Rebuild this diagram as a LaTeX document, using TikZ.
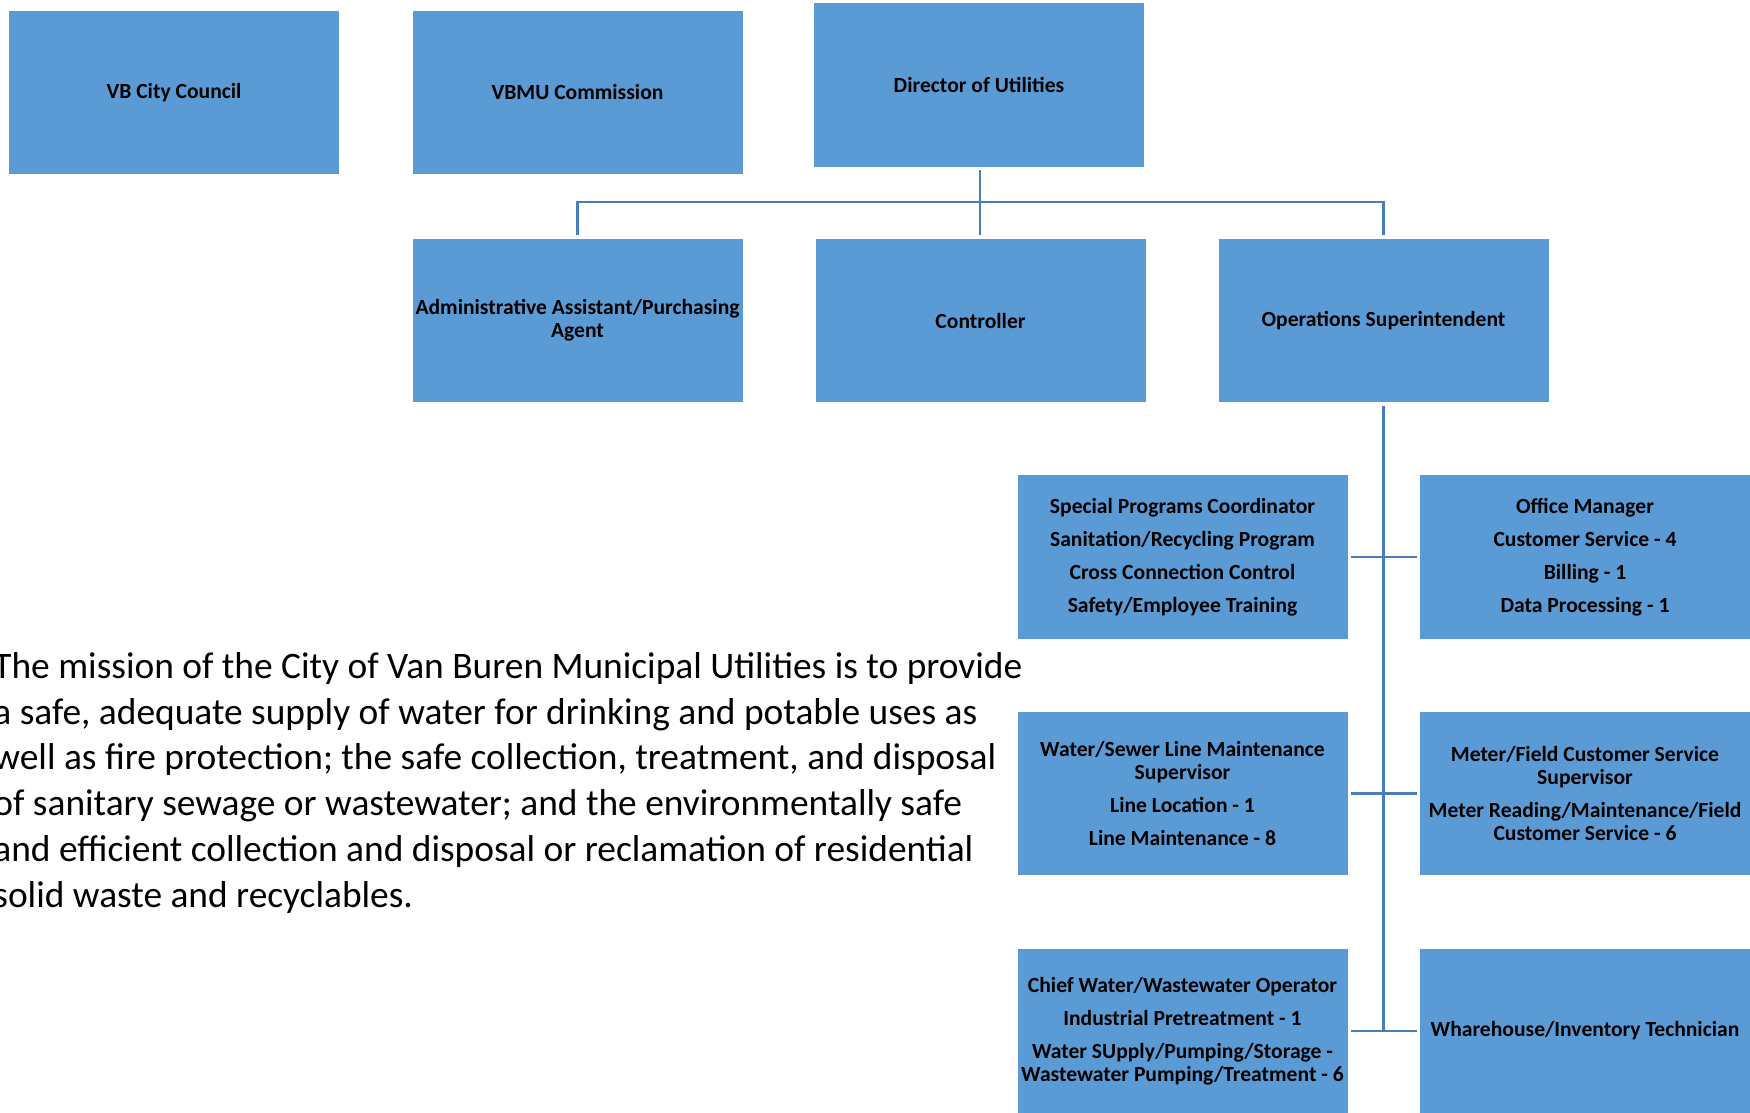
\documentclass[tikz,border=0pt]{standalone}
\usepackage{fontspec}
\setmainfont{Carlito}
\definecolor{boxblue}{HTML}{5B9BD5}
\definecolor{lineblue}{HTML}{4A7EBB}
\begin{document}
\begin{tikzpicture}[x=0.5pt,y=-0.5pt,
  orgbox/.style={fill=boxblue, minimum width=165pt, minimum height=81.75pt, inner sep=0pt,
    align=center, anchor=center, font=\bfseries\fontsize{10.8}{11.7}\selectfont},
  link/.style={draw=lineblue, line width=1.4pt},
  mission/.style={align=left, anchor=base west, inner sep=0pt, font=\fontsize{18.7}{22.85}\selectfont}]
\useasboundingbox (0,0) rectangle (1750,1113);
\begin{scope}
\clip (0,0) rectangle (1750,1113);
\node[orgbox] (council) at (174,92.5) {VB City Council};
\node[orgbox] (vbmu) at (577.5,92.5) {VBMU Commission};
\node[orgbox] (director) at (979,85) {Director of Utilities};
\node[orgbox] (admin) at (577.5,320.5) {Administrative Assistant/Purchasing\\Agent};
\node[orgbox] (controller) at (980.5,320.5) {Controller};
\node[orgbox] (ops) at (1383.5,320.5) {Operations Superintendent};
\node[orgbox] (special) at (1182.5,557) {Special Programs Coordinator\\[4.8pt]Sanitation/Recycling Program\\[4.8pt]Cross Connection Control\\[4.8pt]Safety/Employee Training};
\node[orgbox] (office) at (1585,557) {Office Manager\\[4.8pt]Customer Service - 4\\[4.8pt]Billing - 1\\[4.8pt]Data Processing - 1};
\node[orgbox] (water) at (1182.5,793.5) {Water/Sewer Line Maintenance\\Supervisor\\[4.8pt]Line Location - 1\\[4.8pt]Line Maintenance - 8};
\node[orgbox] (meter) at (1585,793.5) {Meter/Field Customer Service\\Supervisor\\[4.8pt]Meter Reading/Maintenance/Field\\Customer Service - 6};
\node[orgbox] (chief) at (1182.5,1031) {Chief Water/Wastewater Operator\\[4.8pt]Industrial Pretreatment - 1\\[4.8pt]Water SUpply/Pumping/Storage -\\Wastewater Pumping/Treatment - 6};
\node[orgbox] (ware) at (1585,1031) {Wharehouse/Inventory Technician};
\coordinate (bar) at (980,202);
\draw[link] ([yshift=-1.5pt]director.south -| bar) -- ([yshift=1.5pt]controller.north -| bar);
\draw[link] ([yshift=1.5pt]admin.north) |- (bar) -| ([yshift=1.5pt]ops.north);
\draw[link] ([yshift=-1.5pt]ops.south) -- (ops.south |- chief.east);
\draw[link] ([xshift=1.5pt]special.east) -- ([xshift=-1.5pt]office.west);
\draw[link] ([xshift=1.5pt]water.east) -- ([xshift=-1.5pt]meter.west);
\draw[link] ([xshift=1.5pt]chief.east) -- ([xshift=-1.5pt]ware.west);
\node[mission] (missiontext) at (-7,907) {The mission of the City of Van Buren Municipal Utilities is to provide\\a safe, adequate supply of water for drinking and potable uses as\\well as fire protection; the safe collection, treatment, and disposal\\of sanitary sewage or wastewater; and the environmentally safe\\and efficient collection and disposal or reclamation of residential\\solid waste and recyclables.};
\end{scope}
\end{tikzpicture}
\end{document}
